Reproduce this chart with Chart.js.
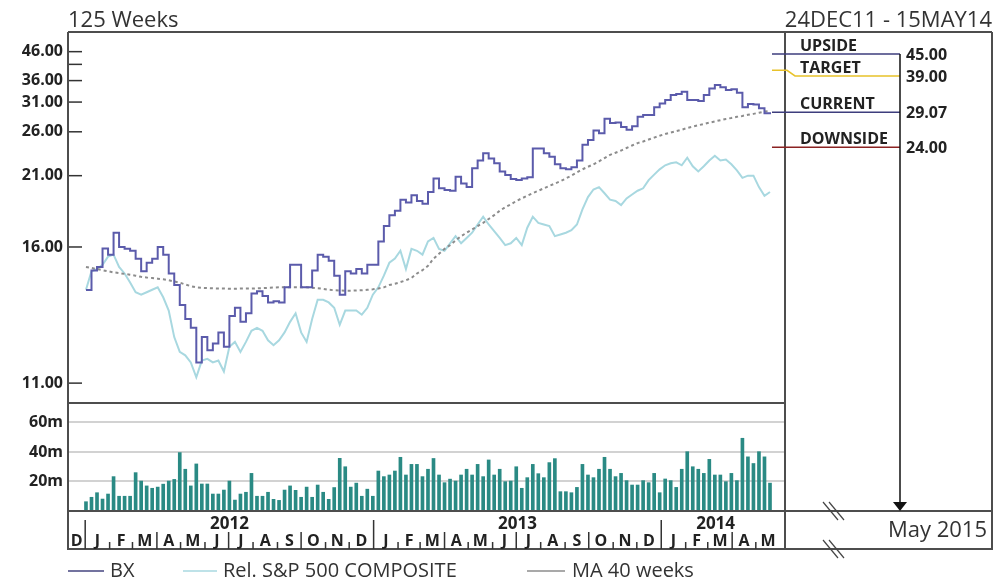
<!DOCTYPE html>
<html><head><meta charset="utf-8">
<script src="https://cdn.jsdelivr.net/npm/chart.js@4.4.1/dist/chart.umd.min.js"></script>
<style>html,body{margin:0;padding:0;background:#fff;}</style>
</head><body>
<canvas id="c" width="996" height="583"></canvas>
<script>
// ---------------- data ----------------
const firstWeek = '2012-01-02';
const seriesNames = ['BX', 'Rel. S&P 500 COMPOSITE', 'MA 40 weeks'];
const bx = [13.99,14.84,15.0,15.92,15.6,16.8,16.0,15.9,15.8,15.4,
 14.8,15.2,15.4,16.0,15.6,14.7,14.2,13.4,12.9,12.6,
 11.55,12.3,11.9,12.1,12.45,12.0,13.0,13.3,12.8,13.1,
 13.85,13.94,13.75,13.5,13.55,13.5,14.1,15.1,15.1,14.1,
 14.1,14.84,15.6,15.5,15.3,14.6,13.8,14.8,14.7,14.9,
 14.7,15.1,15.1,16.3,17.2,17.9,18.2,19.0,18.8,19.35,
 18.9,18.7,19.6,20.75,19.9,19.75,19.7,20.9,20.3,20.0,
 21.7,22.5,23.3,22.7,22.2,21.4,21.06,20.7,20.6,20.75,
 20.85,23.85,23.85,23.3,22.9,22.1,21.7,21.6,21.8,22.5,
 24.3,24.9,26.2,25.8,28.0,27.3,27.4,26.7,26.3,26.8,
 28.3,28.6,28.6,30.0,30.7,31.4,32.5,32.7,33.2,31.4,
 31.4,31.2,32.5,34.0,34.85,34.3,33.6,33.8,33.0,30.0,
 30.6,30.5,29.8,28.9,29.07];
const relSP = [14.0,14.8,14.9,15.1,15.5,15.6,15.0,14.7,14.3,13.9,
 13.8,13.9,14.0,14.1,13.7,13.2,12.3,11.85,11.75,11.55,
 11.15,11.6,11.65,11.55,11.6,11.3,12.0,12.15,11.85,12.15,
 12.5,12.6,12.5,12.2,12.05,12.2,12.45,12.8,13.1,12.45,
 12.15,12.9,13.6,13.6,13.5,13.3,12.7,13.2,13.2,13.2,
 13.05,13.3,13.8,14.1,14.6,15.2,15.4,15.8,14.9,15.9,
 15.8,15.6,16.3,16.5,15.9,15.8,16.2,16.6,16.2,16.5,
 16.8,17.3,17.8,17.3,16.9,16.5,16.1,16.2,16.5,16.1,
 17.1,17.8,17.4,17.3,17.2,16.6,16.7,16.8,16.95,17.3,
 18.3,19.2,19.8,20.0,19.5,19.0,18.9,18.6,19.1,19.4,
 19.7,19.9,20.6,21.1,21.6,22.0,22.2,22.3,22.0,22.8,
 21.9,21.4,21.9,22.5,23.0,22.5,22.6,22.1,21.5,20.8,
 21.0,21.0,20.0,19.3,19.6];
const ma40 = [15.0,14.95,14.9,14.85,14.8,14.75,14.72,14.68,14.64,14.6,
 14.55,14.52,14.5,14.47,14.44,14.4,14.35,14.3,14.22,14.15,
 14.1,14.08,14.07,14.06,14.05,14.05,14.04,14.04,14.05,14.05,
 14.05,14.06,14.07,14.08,14.09,14.1,14.1,14.1,14.1,14.1,
 14.1,14.08,14.06,14.04,14.0,13.98,13.97,13.96,13.96,13.97,
 13.98,14.0,14.02,14.05,14.1,14.2,14.25,14.32,14.4,14.5,
 14.7,14.85,15.05,15.4,15.65,15.9,16.1,16.35,16.6,16.8,
 17.0,17.2,17.4,17.65,17.9,18.2,18.45,18.65,18.9,19.1,
 19.3,19.5,19.7,19.9,20.1,20.3,20.5,20.75,21.0,21.3,
 21.6,21.85,22.1,22.4,22.75,23.1,23.35,23.6,23.9,24.2,
 24.5,24.7,24.95,25.2,25.45,25.7,25.9,26.1,26.3,26.55,
 26.75,26.95,27.15,27.35,27.55,27.75,27.95,28.1,28.3,28.45,
 28.65,28.8,29.0,29.2,29.3];
const volume = [6.3,9.3,12.4,8.1,11.5,23.3,10,10,10,26.0,
 20.3,17.0,15.4,16.2,18.2,20.3,21.4,39.6,28.3,17.0,
 31.9,18.3,18.3,11.5,11.5,14.2,20.3,7.4,11.5,12.7,
 25.5,10,10,12.7,7.9,7.2,14.2,17.0,14.0,9.3,
 16.2,9.3,17.6,12.7,7.9,15.9,35.7,30.0,16.2,18.9,
 10.0,14.8,10.0,27.1,23.3,24.4,27.1,36.4,24.4,31.6,
 31.6,23.3,28.3,35.6,24.4,19.2,21.6,20.3,24.4,28.3,
 24.4,31.6,23.3,34.6,24.4,28.3,19.9,20.3,30.0,15.4,
 22.6,31.6,25.3,22.6,32.8,35.5,13.1,13.1,12.4,16.0,
 31.6,24.4,22.6,28.3,36.4,28.3,23.3,25.5,20.6,17.6,
 17.6,20.6,19.2,25.5,12.4,21.7,20.6,16.0,28.3,40.2,
 30.0,28.3,25.5,35.0,24.4,24.4,19.9,25.5,20.6,49.3,
 36.7,32.2,40.2,36.7,18.9];
const priceTicks = [46, 41, 36, 31, 26, 21, 16, 11];
const priceTickLabels = ['46.00', '', '36.00', '31.00', '26.00', '21.00', '16.00', '11.00'];
const volTicks = [20, 40, 60];
const monthLetters = ['J','F','M','A','M','J','J','A','S','O','N','D'];
const levelNames = ['UPSIDE', 'TARGET', 'CURRENT', 'DOWNSIDE'];
const levelValues = [45.00, 39.00, 29.07, 24.00];
const spanText = '125 Weeks';
const periodText = '24DEC11 - 15MAY14';
const projText = 'May 2015';

// ---------------- styles ----------------
const FONT = "'Open Sans', 'Liberation Sans', sans-serif";
const levelColors = ['#3d3d7d', '#e8c22a', '#3d3d7d', '#8b2222'];
const seriesColors = ['#5b5bab', '#a8d8e0', '#8c8c8c'];
const legendColors = ['#45457f', '#a8d8e0', '#8c8c8c'];

// reciprocal price scale
class ReciprocalScale extends Chart.LinearScale {
  buildTicks() { return priceTicks.map(v => ({ value: v })); }
  getPixelForValue(value) {
    if (value === null || value === undefined || isNaN(value)) return NaN;
    const a = 1 / this.min, b = 1 / this.max;
    return this.getPixelForDecimal((a - 1 / value) / (a - b));
  }
  getValueForPixel(pixel) {
    const a = 1 / this.min, b = 1 / this.max;
    return 1 / (a - this.getDecimalForPixel(pixel) * (a - b));
  }
}
ReciprocalScale.id = 'reciprocal';
ReciprocalScale.defaults = Chart.LinearScale.defaults;
Chart.register(ReciprocalScale);

const t0 = Date.parse(firstWeek + 'T00:00:00Z');
const weekOf = (y, m) => (Date.UTC(y, m, 1) - t0) / 864e5 / 7;

const deco = {
  id: 'deco',
  afterDraw(chart) {
    const { ctx, chartArea: ca } = chart;
    const xs = chart.scales.x, yP = chart.scales.yPrice;
    const R = chart.width - 4;
    const stripB = ca.bottom + 38;
    const panelR = ca.right;
    const lastX = xs.getPixelForValue(bx.length - 1);
    const line = (x1, y1, x2, y2) => { ctx.beginPath(); ctx.moveTo(x1, y1); ctx.lineTo(x2, y2); ctx.stroke(); };
    ctx.save();
    // inner price ticks
    ctx.strokeStyle = '#333'; ctx.lineWidth = 1.5;
    priceTicks.forEach(v => { const y = yP.getPixelForValue(v); line(ca.left, y, ca.left + 14, y); });
    // frame
    ctx.strokeStyle = '#4d4d4d'; ctx.lineWidth = 2;
    line(ca.left, ca.top, R, ca.top);
    line(ca.left, ca.top, ca.left, stripB);
    line(panelR, ca.top, panelR, stripB);
    line(R, ca.top, R, stripB);
    line(ca.left, yP.bottom, panelR, yP.bottom);
    line(ca.left - 1, ca.bottom, R, ca.bottom);
    line(ca.left - 1, stripB, R + 1, stripB);

    // month strip
    ctx.fillStyle = '#222';
    ctx.strokeStyle = '#333'; ctx.lineWidth = 1.5;
    ctx.textAlign = 'center'; ctx.textBaseline = 'middle';
    ctx.font = 'bold 16px ' + FONT;
    let y = 2011, m = 11;
    for (let k = 0; k < 40; k++) {
      const ny = m === 11 ? y + 1 : y, nm = (m + 1) % 12;
      const sx = Math.max(ca.left, xs.getPixelForValue(weekOf(y, m)));
      const ex = Math.min(ca.right, xs.getPixelForValue(weekOf(ny, nm)));
      if (ex - sx < 12) break;
      ctx.fillText(monthLetters[m], (sx + ex) / 2, ca.bottom + 30);
      const bxp = xs.getPixelForValue(weekOf(ny, nm));
      if (ca.right - bxp > 12) {
        const top = nm === 0 ? ca.bottom + 9 : (nm % 3 === 0 ? ca.bottom + 21 : ca.bottom + 31);
        line(bxp, top, bxp, stripB);
      }
      y = ny; m = nm;
    }
    ctx.font = 'bold 17px ' + FONT;
    [2012, 2013, 2014].forEach(yr => {
      const s = xs.getPixelForValue(weekOf(yr, 0));
      const e = Math.min(xs.getPixelForValue(weekOf(yr + 1, 0)), lastX);
      ctx.fillText(String(yr), (s + e) / 2, ca.bottom + 13);
    });

    // headers
    ctx.fillStyle = '#333';
    ctx.font = '22px ' + FONT;
    ctx.textBaseline = 'alphabetic';
    ctx.textAlign = 'left'; ctx.fillText(spanText, ca.left, ca.top - 5);
    ctx.textAlign = 'right'; ctx.fillText(periodText, R, ca.top - 5);

    // right panel levels
    const arrowX = panelR + 115;
    let prevY = -Infinity, firstY = null;
    levelValues.forEach((v, k) => {
      const yv = yP.getPixelForValue(v);
      const ly = Math.max(yv, prevY + 22); prevY = ly;
      if (firstY === null) firstY = ly;
      ctx.strokeStyle = levelColors[k]; ctx.lineWidth = 1.5;
      ctx.beginPath(); ctx.moveTo(lastX + 2, yv); ctx.lineTo(panelR + 2, yv);
      ctx.lineTo(panelR + 10, ly); ctx.lineTo(arrowX, ly); ctx.stroke();
      ctx.fillStyle = '#222';
      ctx.font = 'bold 16px ' + FONT;
      ctx.textAlign = 'left'; ctx.textBaseline = 'alphabetic';
      ctx.fillText(levelNames[k], panelR + 15, ly - 3);
      ctx.textBaseline = 'middle';
      ctx.fillText(levelValues[k].toFixed(2), arrowX + 6, ly + 1);
    });
    ctx.strokeStyle = '#111'; ctx.lineWidth = 1.5;
    line(arrowX, firstY, arrowX, ca.bottom - 8);
    ctx.fillStyle = '#111';
    ctx.beginPath(); ctx.moveTo(arrowX - 7, ca.bottom - 9); ctx.lineTo(arrowX + 7, ca.bottom - 9); ctx.lineTo(arrowX, ca.bottom); ctx.closePath(); ctx.fill();

    // projection date
    ctx.fillStyle = '#333'; ctx.font = '22px ' + FONT;
    ctx.textAlign = 'right'; ctx.textBaseline = 'middle';
    ctx.fillText(projText, R - 5, ca.bottom + 20);

    // break marks
    ctx.strokeStyle = '#444'; ctx.lineWidth = 1.2;
    [ca.bottom, stripB].forEach(cy => {
      const cx = panelR + 48;
      line(cx - 10, cy - 9, cx + 5, cy + 9);
      line(cx - 4, cy - 9, cx + 11, cy + 9);
    });

    // legend
    const legendPos = [[68, 104, 110], [183, 217, 223], [527, 565, 572]];
    const ly2 = ca.bottom + 60;
    ctx.font = '20px ' + FONT; ctx.textAlign = 'left'; ctx.textBaseline = 'middle';
    seriesNames.forEach((n, k) => {
      const [a, b, t] = legendPos[k];
      ctx.strokeStyle = legendColors[k]; ctx.lineWidth = 1.5;
      line(a, ly2, b, ly2);
      ctx.fillStyle = '#333';
      ctx.fillText(n, t, ly2);
    });
    ctx.restore();
  }
};

const pts = arr => arr.map((v, i) => ({ x: i, y: v }));

new Chart(document.getElementById('c'), {
  type: 'line',
  data: {
    datasets: [
      { label: seriesNames[0], data: pts(bx), yAxisID: 'yPrice', borderColor: seriesColors[0], borderWidth: 2, pointRadius: 0, stepped: true, order: 0 },
      { label: seriesNames[2], data: pts(ma40), yAxisID: 'yPrice', borderColor: seriesColors[2], borderWidth: 2, borderDash: [3, 3], pointRadius: 0, order: 1 },
      { label: seriesNames[1], data: pts(relSP), yAxisID: 'yPrice', borderColor: seriesColors[1], borderWidth: 2, pointRadius: 0, order: 2 },
      { type: 'bar', label: 'Volume', data: pts(volume), yAxisID: 'yVol', backgroundColor: '#2a8a84', barThickness: 3, order: 3 }
    ]
  },
  options: {
    responsive: false, animation: false, devicePixelRatio: 1,
    layout: { padding: { left: 0, right: 211, top: 32, bottom: 72 } },
    plugins: { legend: { display: false }, tooltip: { enabled: false } },
    scales: {
      x: { type: 'linear', display: false, offset: false, bounds: 'data', min: -3.26, max: 126.72 },
      yVol: {
        type: 'linear', position: 'left', stack: 'main', stackWeight: 108,
        min: 0, max: 73.2,
        afterBuildTicks: s => { s.ticks = volTicks.map(v => ({ value: v })); },
        afterFit: s => { s.width = 68; },
        border: { display: false },
        grid: { color: '#d2d2d2', lineWidth: 2, drawTicks: false },
        ticks: { autoSkip: false, padding: 5, color: '#222', font: { family: FONT, size: 16, weight: 'bold' }, callback: v => v + 'm' }
      },
      yPrice: {
        type: 'reciprocal', position: 'left', stack: 'main', stackWeight: 371,
        min: 10.52, max: 56.7,
        afterFit: s => { s.width = 68; },
        border: { display: false },
        grid: { display: false, drawTicks: false },
        ticks: { autoSkip: false, padding: 5, color: '#222', font: { family: FONT, size: 16, weight: 'bold' }, callback: (v, i) => priceTickLabels[i] }
      }
    }
  },
  plugins: [deco]
});
</script>
</body></html>
